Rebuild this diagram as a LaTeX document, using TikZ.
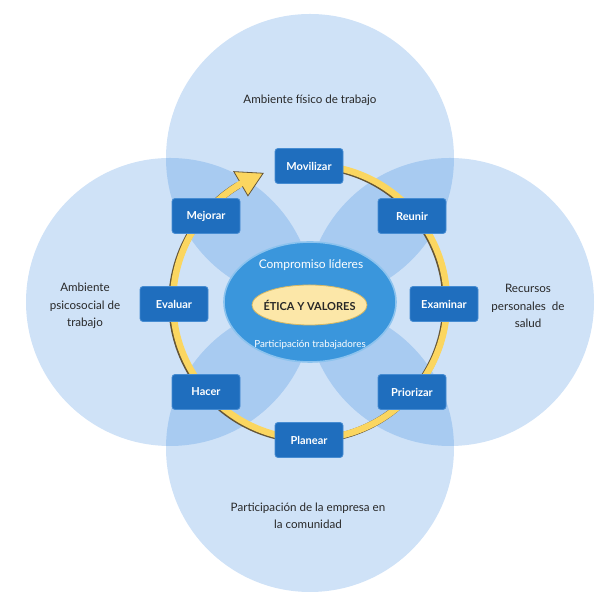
\documentclass[tikz,border=0pt]{standalone}
\usepackage{fontspec}
\setmainfont{Lato}
\usetikzlibrary{shapes.geometric}
\definecolor{circblue}{RGB}{27,117,217}
\definecolor{boxblue}{RGB}{31,110,190}
\definecolor{boxedge}{RGB}{70,140,210}
\definecolor{midblue}{RGB}{58,150,220}
\definecolor{midedge}{RGB}{140,195,238}
\definecolor{eyellow}{RGB}{252,231,168}
\definecolor{eyedge}{RGB}{215,185,100}
\definecolor{ring}{RGB}{251,214,96}
\definecolor{ringedge}{RGB}{100,85,55}
\definecolor{txt}{RGB}{40,40,40}
\tikzset{
  area/.style={circle, minimum size=288pt, fill=circblue, fill opacity=0.21, inner sep=0pt},
  stepbox/.style={rectangle, rounded corners=3pt, fill=boxblue, draw=boxedge, line width=0.8pt,
    minimum width=68pt, minimum height=35pt, inner sep=0pt, text=white, font=\fontsize{11}{13}\selectfont\bfseries},
  lab/.style={align=center, text=txt, font=\fontsize{11.6}{17.5}\selectfont}
}
\begin{document}
\begin{tikzpicture}[x=1pt,y=1pt]
\useasboundingbox (0,0) rectangle (606,604);
% four domain circles
\node[area] (ctop) at (310,446) {};
\node[area] (cleft) at (170,302) {};
\node[area] (cright) at (450,302) {};
\node[area] (cbot) at (310,156) {};
% labels
\node[lab] (ltop) at (310,504) {Ambiente físico de trabajo};
\node[lab] (lleft) at (85,298) {Ambiente\\psicosocial de\\trabajo};
\node[lab] (lright) at (528,298) {Recursos\\personales\ \ de\\salud};
\node[lab] (lbot) at (308,88) {Participación de la empresa en\\la comunidad};
% ring with arrow (shadow offset to lower left)
\begin{scope}[shift={(308.8,301.2)}]
  \draw[ringedge, line width=7pt] (90:137) arc[start angle=90, end angle=-239, radius=137];
\end{scope}
\begin{scope}[shift={(310,302)}]
  \draw[ring, line width=6.5pt] (90:137) arc[start angle=90, end angle=-239.5, radius=137];
  \fill[ring, draw=ringedge, line width=0.8pt, line join=miter] (120.3:151) -- (110:137) -- (120.3:123) -- cycle;
  \draw[ring, line width=6pt] (118:137) arc[start angle=118, end angle=122, radius=137];
  \coordinate (tip) at (110:137);
\end{scope}
% centre
\node[ellipse, fill=midblue, draw=midedge, line width=1.6pt, minimum width=172pt, minimum height=120pt, inner sep=0pt] (mid) at (310,302) {};
\node[ellipse, fill=eyellow, draw=eyedge, line width=0.8pt, minimum width=115pt, minimum height=40pt, inner sep=0pt] (etica) at (309.5,299) {};
\node[text=txt, font=\fontsize{11}{13}\selectfont\bfseries, inner sep=0pt] (eticatext) at (etica.center) {ÉTICA Y VALORES};
\node[text=white, font=\fontsize{12}{14}\selectfont] (comp) at (311,339) {Compromiso líderes};
\node[text=white, font=\fontsize{9.8}{11}\selectfont] (part) at (310,259) {Participación trabajadores};
% steps
\node[stepbox] (movilizar) at (309,438) {Movilizar};
\node[stepbox] (reunir) at (412,388) {Reunir};
\node[stepbox] (examinar) at (444,300) {Examinar};
\node[stepbox] (priorizar) at (412,212) {Priorizar};
\node[stepbox] (planear) at (309,164) {Planear};
\node[stepbox] (hacer) at (206,212) {Hacer};
\node[stepbox] (evaluar) at (174,300) {Evaluar};
\node[stepbox] (mejorar) at (206,388) {Mejorar};
\end{tikzpicture}
\end{document}
